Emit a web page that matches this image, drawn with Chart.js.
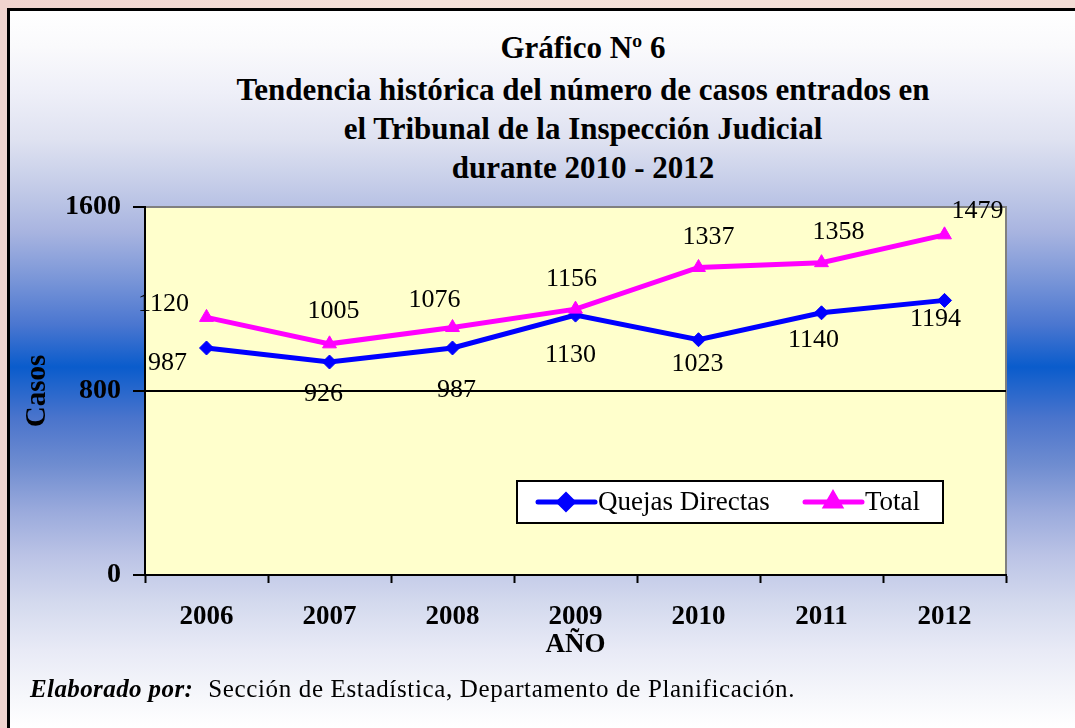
<!DOCTYPE html>
<html>
<head>
<meta charset="utf-8">
<script src="https://cdn.jsdelivr.net/npm/chart.js@4.4.0/dist/chart.umd.min.js"></script>
<style>
	body {
		margin: 0;
		width: 1075px;
		height: 728px;
		overflow: hidden;
		position: relative;
		background: linear-gradient(to right, #f0d4cf, #f5e2da 40%, #f3ddd6);
	}
	#frame {
		position: absolute;
		left: 7px;
		top: 8px;
		width: 1200px;
		height: 740px;
		border: 3px solid #000;
		background: linear-gradient(to bottom,
			#ffffff 0px, #fafafc 35px, #eeeff8 82px, #dfe2f1 128px, #c4cce8 175px,
			#a8b4e0 221px, #7a96d8 268px, #4a76d0 314px, #0a5ccc 356px, #4a74cc 407px,
			#6e8cd0 453px, #9aaadc 500px, #bcc4e6 546px, #d4daee 593px, #e8eaf6 639px,
			#f6f7fb 685px, #ffffff 717px);
	}
	#myChart {
		position: absolute;
		left: 8px;
		top: 10px;
	}
	#titulo {
		position: absolute;
		left: 0;
		width: 1166px;
		top: 28px;
		text-align: center;
		font-family: 'Liberation Serif', 'Times New Roman', serif;
		font-weight: bold;
		font-size: 31px;
		line-height: 39px;
		color: #000;
		white-space: nowrap;
	}
	#titulo div:first-child {
		margin-bottom: 3px;
	}
	#nota {
		position: absolute;
		left: 30px;
		top: 675px;
		font-family: 'Liberation Serif', 'Times New Roman', serif;
		font-size: 25px;
		letter-spacing: 0.65px;
		color: #000;
		white-space: nowrap;
	}
	#nota b {
		font-style: italic;
		letter-spacing: 0.4px;
		margin-right: 8px;
	}
</style>
</head>
<body>
<div id="frame"></div>
<div id="titulo">
	<div>Gráfico Nº 6</div>
	<div>Tendencia histórica del número de casos entrados en</div>
	<div>el Tribunal de la Inspección Judicial</div>
	<div>durante 2010 - 2012</div>
</div>
<canvas id="myChart" width="1150" height="718"></canvas>
<div id="nota"><b>Elaborado por:</b> Sección de Estadística, Departamento de Planificación.</div>

<script>
const anios = ['2006', '2007', '2008', '2009', '2010', '2011', '2012'];
const quejasDirectas = [987, 926, 987, 1130, 1023, 1140, 1194];
const total = [1120, 1005, 1076, 1156, 1337, 1358, 1479];
const ticksY = [0, 800, 1600];

const serif = "'Liberation Serif', 'Times New Roman', serif";

// fondo amarillo y borde gris del area de trazado
const plotArea = {
	id: 'plotArea',
	beforeDraw(chart) {
		const { ctx, chartArea: a } = chart;
		ctx.save();
		ctx.fillStyle = '#ffffcc';
		ctx.fillRect(a.left, a.top, a.right - a.left, a.bottom - a.top);
		ctx.strokeStyle = '#808080';
		ctx.lineWidth = 2;
		ctx.beginPath();
		ctx.moveTo(a.left, a.top);
		ctx.lineTo(a.right, a.top);
		ctx.lineTo(a.right, a.bottom);
		ctx.stroke();
		ctx.restore();
	}
};

// etiquetas de valores
const etiquetas = {
	id: 'etiquetas',
	afterDatasetsDraw(chart, args, opts) {
		const { ctx } = chart;
		ctx.save();
		ctx.font = '26px ' + serif;
		ctx.fillStyle = '#000';
		ctx.textAlign = 'center';
		ctx.textBaseline = 'middle';
		chart.data.datasets.forEach((ds, i) => {
			const meta = chart.getDatasetMeta(i);
			const offs = opts.offsets[i];
			meta.data.forEach((pt, j) => {
				ctx.fillText(String(ds.data[j]), pt.x + offs[j][0], pt.y + offs[j][1]);
			});
		});
		ctx.restore();
	}
};

// leyenda dentro del area de trazado
const leyenda = {
	id: 'leyenda',
	afterDraw(chart, args, opts) {
		const { ctx, chartArea: a } = chart;
		const x = a.left + opts.x;
		const y = a.top + opts.y;
		ctx.save();
		ctx.fillStyle = '#fff';
		ctx.fillRect(x, y, opts.w, opts.h);
		ctx.strokeStyle = '#000';
		ctx.lineWidth = 2;
		ctx.strokeRect(x, y, opts.w, opts.h);
		const cy = y + opts.h / 2;
		chart.data.datasets.forEach((ds, i) => {
			const sx = x + opts.items[i];
			ctx.strokeStyle = ds.borderColor;
			ctx.lineWidth = 5;
			ctx.lineCap = 'round';
			ctx.beginPath();
			ctx.moveTo(sx, cy);
			ctx.lineTo(sx + 57, cy);
			ctx.stroke();
			Chart.helpers.drawPoint(ctx, {
				pointStyle: ds.pointStyle,
				radius: ds.pointRadius,
				borderWidth: 1,
				rotation: 0
			}, sx + 28, cy);
			ctx.fillStyle = ds.borderColor;
			ctx.fill();
			ctx.fillStyle = '#000';
			ctx.font = '27px ' + serif;
			ctx.textAlign = 'left';
			ctx.textBaseline = 'middle';
			ctx.fillText(ds.label, sx + 60, cy + 1);
		});
		ctx.restore();
	}
};

const ctx = document.getElementById('myChart').getContext('2d');

let myChart = new Chart(ctx, {
	type: 'line',
	data: {
		labels: anios,
		datasets: [{
			label: 'Quejas Directas',
			data: quejasDirectas,
			borderColor: '#0000ff',
			backgroundColor: '#0000ff',
			borderWidth: 5,
			pointStyle: 'rectRot',
			pointRadius: 7,
			pointBorderWidth: 1,
			order: 2
		}, {
			label: 'Total',
			data: total,
			borderColor: '#ff00ff',
			backgroundColor: '#ff00ff',
			borderWidth: 5,
			pointStyle: 'triangle',
			pointRadius: 8,
			pointBorderWidth: 1,
			order: 1
		}]
	},
	options: {
		responsive: false,
		animation: false,
		layout: {
			padding: { left: 12, right: 152, top: 197, bottom: 63 }
		},
		scales: {
			x: {
				offset: true,
				afterFit(s) { s.height = 90; },
				grid: {
					offset: true,
					drawOnChartArea: false,
					tickColor: '#000',
					tickLength: 8,
					tickWidth: 2
				},
				border: { color: '#000', width: 2 },
				ticks: {
					color: '#000',
					padding: 18,
					maxRotation: 0,
					font: { family: serif, size: 27, weight: 'bold' }
				},
				title: {
					display: true,
					text: 'AÑO',
					color: '#000',
					padding: { top: 0, bottom: 4 },
					font: { family: serif, size: 27, weight: 'bold' }
				}
			},
			y: {
				min: 0,
				max: 1600,
				afterFit(s) { s.width = 125; },
				afterBuildTicks(s) { s.ticks = ticksY.map(v => ({ value: v })); },
				grid: {
					color: c => (c.tick && c.tick.value === 800 ? '#000' : 'rgba(0,0,0,0)'),
					lineWidth: 2,
					tickColor: '#000',
					tickLength: 12,
					tickWidth: 2
				},
				border: { color: '#000', width: 2 },
				ticks: {
					color: '#000',
					padding: 12,
					callback: v => String(v),
					font: { family: serif, size: 28, weight: 'bold' }
				},
				title: {
					display: true,
					text: 'Casos',
					color: '#000',
					padding: { top: 0, bottom: 0 },
					font: { family: serif, size: 29, weight: 'bold' }
				}
			}
		},
		plugins: {
			legend: { display: false },
			tooltip: { enabled: false },
			title: { display: false },
			etiquetas: {
				offsets: [
					[[-39, 15], [-6, 32], [4, 42], [-5, 40], [-1, 24], [-8, 27], [-9, 19]],
					[[-43, -13], [4, -33], [-18, -27], [-4, -30], [10, -30], [17, -30], [33, -24]]
				]
			},
			leyenda: {
				x: 372, y: 274, w: 426, h: 42,
				items: [21, 288]
			}
		}
	},
	plugins: [plotArea, etiquetas, leyenda]
});
</script>
</body>
</html>
